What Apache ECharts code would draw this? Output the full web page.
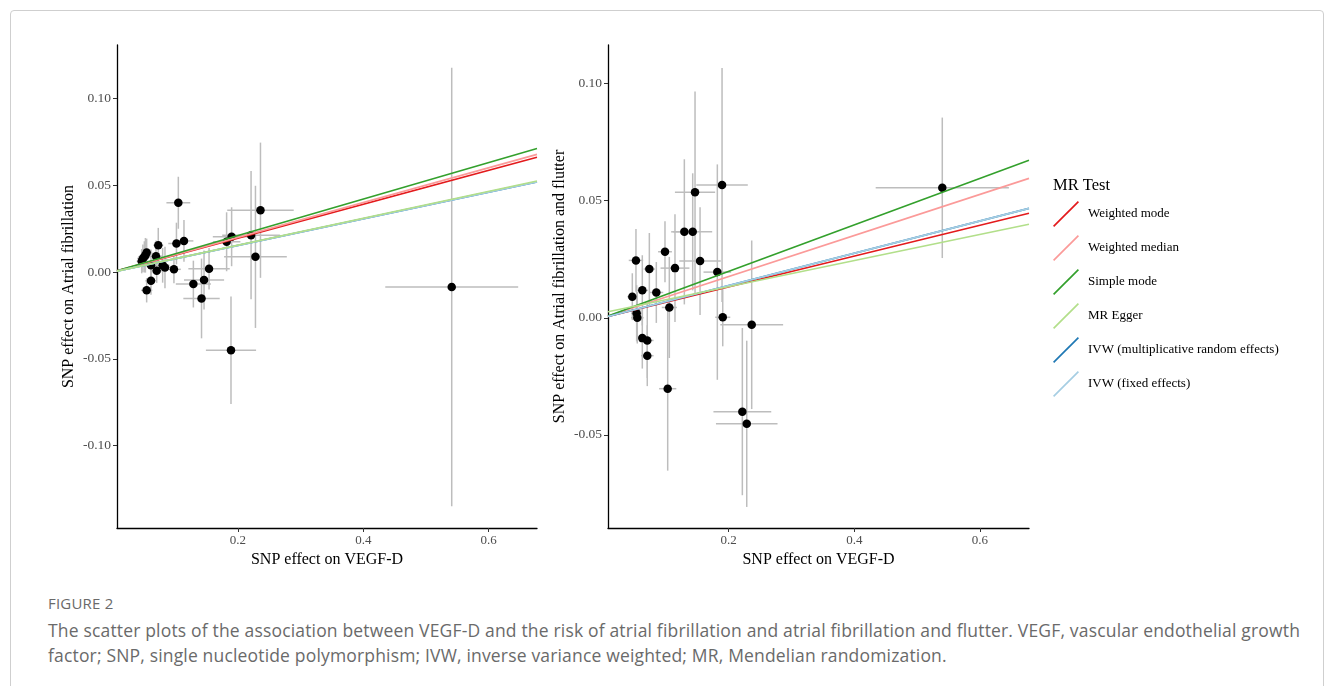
<!DOCTYPE html>
<html>
<head>
<meta charset="utf-8">
<title>Figure 2</title>
<script src="https://cdn.jsdelivr.net/npm/echarts@6/dist/echarts.min.js"></script>
<style>
    html, body { margin: 0; padding: 0; background: #fff; }
    #frame {
        position: absolute; left: 10px; top: 10px; width: 1312px; height: 700px;
        border: 1px solid #cfcfcf; border-radius: 4px;
    }
    #main { position: absolute; left: 0; top: 0; width: 1333px; height: 590px; }
    .cap { position: absolute; left: 48px; font-family: "Open Sans", "Noto Sans", sans-serif; color: #6a6a6a; }
    #figno { top: 593px; font-size: 15px; letter-spacing: 0.2px; }
    #figtext { top: 618px; font-size: 17.5px; line-height: 25px; letter-spacing: 0.17px; }
</style>
</head>
<body>
<div id="frame"></div>
<div id="main"></div>
<div class="cap" id="figno">FIGURE 2</div>
<div class="cap" id="figtext">The scatter plots of the association between VEGF-D and the risk of atrial fibrillation and atrial fibrillation and flutter. VEGF, vascular endothelial growth<br>factor; SNP, single nucleotide polymorphism; IVW, inverse variance weighted; MR, Mendelian randomization.</div>

<script>
    // ---- data ----
    // left panel: Atrial fibrillation
    const afX   = [0.0466, 0.0485, 0.0508, 0.0545, 0.0525, 0.0614, 0.0705, 0.0694, 0.0730, 0.0800, 0.0837, 0.0980, 0.1020, 0.1050,
                   0.1140, 0.0614, 0.0545, 0.1290, 0.1420, 0.1460, 0.1540, 0.1820, 0.1900, 0.2210, 0.2280, 0.2360, 0.1890, 0.5410];
    const afY   = [0.0063, 0.0079, 0.0088, 0.0113, 0.0097, 0.0040, 0.0008, 0.0092, 0.0155, 0.0039, 0.0027, 0.0016, 0.0165, 0.0400,
                   0.0180, -0.0050, -0.0105, -0.0069, -0.0152, -0.0046, 0.0019, 0.0175, 0.0204, 0.0213, 0.0088, 0.0357, -0.0451, -0.0086];
    const afSeX = [0.008, 0.009, 0.010, 0.009, 0.008, 0.010, 0.009, 0.010, 0.008, 0.011, 0.010, 0.011, 0.013, 0.019,
                   0.015, 0.009, 0.009, 0.028, 0.029, 0.032, 0.033, 0.022, 0.030, 0.046, 0.050, 0.053, 0.040, 0.106];
    const afSeY = [0.007, 0.008, 0.009, 0.008, 0.010, 0.009, 0.007, 0.009, 0.010, 0.010, 0.012, 0.008, 0.012, 0.015,
                   0.012, 0.008, 0.007, 0.0135, 0.023, 0.017, 0.012, 0.017, 0.017, 0.037, 0.041, 0.039, 0.031, 0.1265];

    // right panel: Atrial fibrillation and flutter
    const affX   = [0.0467, 0.0525, 0.0536, 0.0546, 0.0626, 0.0626, 0.0705, 0.0705, 0.0738, 0.0849, 0.0987, 0.1030, 0.1056,
                    0.1146, 0.1295, 0.1428, 0.1465, 0.1545, 0.1820, 0.1895, 0.1906, 0.2218, 0.2288, 0.2367, 0.5400];
    const affY   = [0.0090, 0.0245, 0.0019, 0.0000, 0.0117, -0.0087, -0.0097, -0.0162, 0.0208, 0.0108, 0.0282, -0.0303, 0.0044,
                    0.0212, 0.0367, 0.0367, 0.0536, 0.0242, 0.0195, 0.0567, 0.0002, -0.0401, -0.0453, -0.0030, 0.0555];
    const affSeX = [0.008, 0.0115, 0.009, 0.010, 0.009, 0.010, 0.010, 0.010, 0.009, 0.011, 0.011, 0.0137, 0.012,
                    0.023, 0.021, 0.031, 0.032, 0.033, 0.022, 0.041, 0.012, 0.046, 0.049, 0.050, 0.106];
    const affSeY = [0.010, 0.0134, 0.012, 0.011, 0.015, 0.013, 0.016, 0.013, 0.0154, 0.013, 0.013, 0.035, 0.0216,
                    0.023, 0.031, 0.025, 0.043, 0.023, 0.046, 0.050, 0.0124, 0.0357, 0.0355, 0.036, 0.030];

    // MR methods (legend order) with slope / intercept per panel
    const methods      = ['Weighted mode', 'Weighted median', 'Simple mode', 'MR Egger', 'IVW (multiplicative random effects)', 'IVW (fixed effects)'];
    const methodColors = ['#E31A1C', '#FB9A99', '#33A02C', '#B2DF8A', '#1F78B4', '#A6CEE3'];
    const afSlope      = [0.0978, 0.1003, 0.1053, 0.0777, 0.0769, 0.0769];
    const afIntercept  = [0, 0, 0, 0, 0, 0];
    const affSlope     = [0.0658, 0.0878, 0.0993, 0.0558, 0.0689, 0.0689];
    const affIntercept = [0, 0, 0, 0.0021, 0, 0];

    const xTicks = [0.2, 0.4, 0.6];
    const yTicks = [-0.10, -0.05, 0.00, 0.05, 0.10];

    // axis ranges
    const afRange  = { xMin: 0.0072, xMax: 0.677, yMin: -0.1476, yMax: 0.131 };
    const affRange = { xMin: 0.0080, xMax: 0.678, yMin: -0.0898, yMax: 0.1165 };

    const serif = '"Liberation Serif", "DejaVu Serif", serif';

    function xAxisFor(idx, r) {
        return {
            type: 'value', gridIndex: idx, min: r.xMin, max: r.xMax,
            name: 'SNP effect on VEGF-D', nameLocation: 'middle', nameGap: 21,
            nameTextStyle: { fontFamily: serif, fontSize: 16, color: '#000' },
            splitLine: { show: false },
            axisLine: { onZero: false, lineStyle: { color: '#000', width: 1.3 } },
            axisTick: { customValues: xTicks, length: 4, lineStyle: { color: '#333', width: 1 } },
            axisLabel: { customValues: xTicks, formatter: v => v.toFixed(1), color: '#4d4d4d', fontFamily: serif, fontSize: 13, margin: 6 }
        };
    }

    function yAxisFor(idx, r, title) {
        return {
            type: 'value', gridIndex: idx, min: r.yMin, max: r.yMax,
            name: title, nameLocation: 'middle', nameGap: 40,
            nameTextStyle: { fontFamily: serif, fontSize: 16, color: '#000' },
            splitLine: { show: false },
            axisLine: { onZero: false, lineStyle: { color: '#000', width: 1.3 } },
            axisTick: { customValues: yTicks, length: 4, lineStyle: { color: '#333', width: 1 } },
            axisLabel: { customValues: yTicks, formatter: v => v.toFixed(2), color: '#4d4d4d', fontFamily: serif, fontSize: 13.5, margin: 6 }
        };
    }

    // grey cross error bars
    function errorBarItem(params, api) {
        const x = api.value(0), y = api.value(1), sx = api.value(2), sy = api.value(3);
        const h0 = api.coord([x - sx, y]), h1 = api.coord([x + sx, y]);
        const v0 = api.coord([x, y - sy]), v1 = api.coord([x, y + sy]);
        const style = { stroke: '#bdbdbd', lineWidth: 1.5 };
        return {
            type: 'group',
            children: [
                { type: 'line', shape: { x1: h0[0], y1: h0[1], x2: h1[0], y2: h1[1] }, style: style },
                { type: 'line', shape: { x1: v0[0], y1: v0[1], x2: v1[0], y2: v1[1] }, style: style }
            ]
        };
    }

    function panelSeries(idx, xs, ys, sxs, sys, slopes, intercepts, r) {
        const out = [];
        out.push({
            type: 'custom', xAxisIndex: idx, yAxisIndex: idx, renderItem: errorBarItem,
            encode: { x: 0, y: 1 }, z: 1, silent: true,
            data: xs.map((x, i) => [x, ys[i], sxs[i], sys[i]])
        });
        out.push({
            type: 'scatter', xAxisIndex: idx, yAxisIndex: idx, symbolSize: 8.5, z: 2,
            itemStyle: { color: '#000', opacity: 1 },
            data: xs.map((x, i) => [x, ys[i]])
        });
        // fitted lines across the whole x range; MR Egger sits on top of the IVW lines
        methods.forEach((m, k) => {
            out.push({
                type: 'line', name: m, xAxisIndex: idx, yAxisIndex: idx, z: m === 'MR Egger' ? 10 : 3 + k,
                symbol: 'none', silent: true,
                color: methodColors[k],
                lineStyle: { color: methodColors[k], width: 1.6 },
                data: [[r.xMin, intercepts[k] + slopes[k] * r.xMin], [r.xMax, intercepts[k] + slopes[k] * r.xMax]]
            });
        });
        return out;
    }

    const chart = echarts.init(document.getElementById('main'), null, { renderer: 'canvas' });

    const option = {
        animation: false,
        grid: [
            { left: 117, top: 45, width: 420, height: 483 },
            { left: 608, top: 45, width: 421, height: 483 }
        ],
        xAxis: [xAxisFor(0, afRange), xAxisFor(1, affRange)],
        yAxis: [
            yAxisFor(0, afRange, 'SNP effect on Atrial fibrillation'),
            yAxisFor(1, affRange, 'SNP effect on Atrial fibrillation and flutter')
        ],
        title: {
            text: 'MR Test', left: 1053, top: 177, padding: 0,
            textStyle: { fontFamily: serif, fontSize: 16.5, fontWeight: 'normal', color: '#000' }
        },
        legend: {
            data: methods, orient: 'vertical', left: 1053, top: 201, padding: 0,
            itemWidth: 26, itemHeight: 26, itemGap: 8, selectedMode: false,
            icon: 'path://M0,24.8 L24.8,0 L26,1.2 L1.2,26 Z',
            textStyle: { fontFamily: serif, fontSize: 13, color: '#000', padding: [0, 0, 0, 4] }
        },
        series: [].concat(
            panelSeries(0, afX, afY, afSeX, afSeY, afSlope, afIntercept, afRange),
            panelSeries(1, affX, affY, affSeX, affSeY, affSlope, affIntercept, affRange)
        )
    };

    chart.setOption(option);
</script>
</body>
</html>
